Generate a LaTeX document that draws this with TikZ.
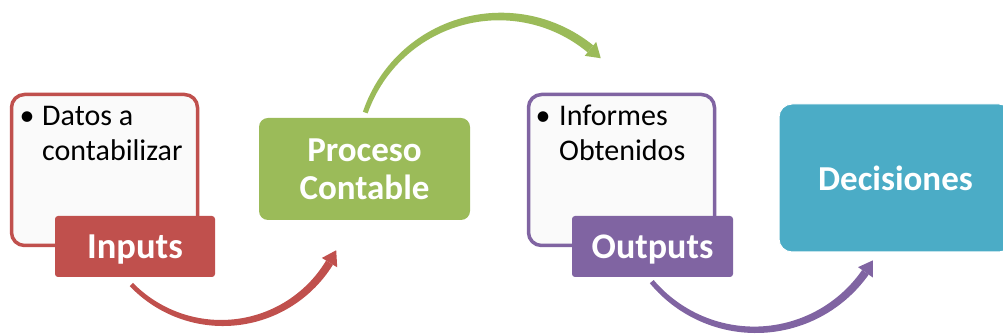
\documentclass[tikz,border=0pt]{standalone}
\usepackage{fontspec}
\setmainfont{Carlito}
\usetikzlibrary{calc}
\definecolor{cred}{HTML}{C0504D}
\definecolor{cgreen}{HTML}{9BBB59}
\definecolor{cpurple}{HTML}{8064A2}
\definecolor{cblue}{HTML}{4BACC6}
\definecolor{pale}{HTML}{FAFAFA}
% #1 colour, #2 centre, #3 radius, #4 start angle, #5 shaft end angle, #6 tip angle, #7 start width, #8 end width
\newcommand{\arcarrow}[8]{%
  \fill[#1, shift={(#2)}]
    plot[domain=#4:#5, samples=60] (\x:{#3+(#7+(#8-#7)*(\x-#4)/(#5-#4))/2})
    -- plot[domain=#5:#4, samples=60] (\x:{#3-(#7+(#8-#7)*(\x-#4)/(#5-#4))/2})
    -- cycle;
  \fill[#1, shift={(#2)}] (#5:{#3+9}) -- (#6:#3) -- (#5:{#3-9}) -- cycle;
}
\begin{document}
\begin{tikzpicture}[x=1pt,y=1pt,
  outline/.style={draw, line width=3.5pt, fill=pale, rounded corners=13pt,
    minimum width=186pt, minimum height=151pt, inner sep=0pt},
  tag/.style={rounded corners=3pt, inner sep=0pt, text=white,
    font=\fontsize{35}{38}\selectfont\bfseries, align=center},
  btext/.style={anchor=base west, inner sep=0pt, font=\fontsize{30}{35}\selectfont},
  bdot/.style={anchor=base, inner sep=0pt, font=\fontsize{30}{35}\selectfont}]
\useasboundingbox (0,0) rectangle (1003,336);
\clip (0,0) rectangle (1003,336);

% arc centres
\coordinate (c1) at (222,139);
\coordinate (c2) at (500,177);
\coordinate (c3) at (755,141);

% input block
\node[outline, draw=cred] (inbox) at (104.5,166) {};
\node[bdot] (d1) at (27,210.5) {•};
\node[btext] (t1a) at (42,210.5) {Datos a};
\node[btext] (t1b) at (42,175) {contabilizar};
\node[tag, fill=cred, minimum width=160pt, minimum height=61pt, text depth=0pt,
  font=\fontsize{36.5}{38}\selectfont\bfseries] (inputs) at (135,89.5) {Inputs};

% process
\node[tag, fill=cgreen, rounded corners=9pt, minimum width=211pt, minimum height=102pt] (proc) at (364.5,167) {Proceso\\Contable};

% output block
\node[outline, draw=cpurple] (outbox) at (621.5,166) {};
\node[bdot] (d2) at (543,210.5) {•};
\node[btext] (t2a) at (559,210.5) {Informes};
\node[btext] (t2b) at (559,175) {Obtenidos};
\node[tag, fill=cpurple, minimum width=161pt, minimum height=61pt, text depth=0pt,
  font=\fontsize{36}{38}\selectfont\bfseries] (outputs) at (652.5,89.5) {Outputs};

% decisions
\node[tag, fill=cblue, draw=white, line width=1pt, rounded corners=13pt, minimum width=233pt, minimum height=148pt] (dec) at (895.5,158) {Decisiones};

% arrows
\arcarrow{cred}{c1}{126}{224}{328.6}{335}{4.5}{8}
\arcarrow{cgreen}{c2}{142.5}{161}{50.6}{45}{5}{9}
\arcarrow{cpurple}{c3}{134.8}{220}{325}{331}{5}{8}
\end{tikzpicture}
\end{document}
